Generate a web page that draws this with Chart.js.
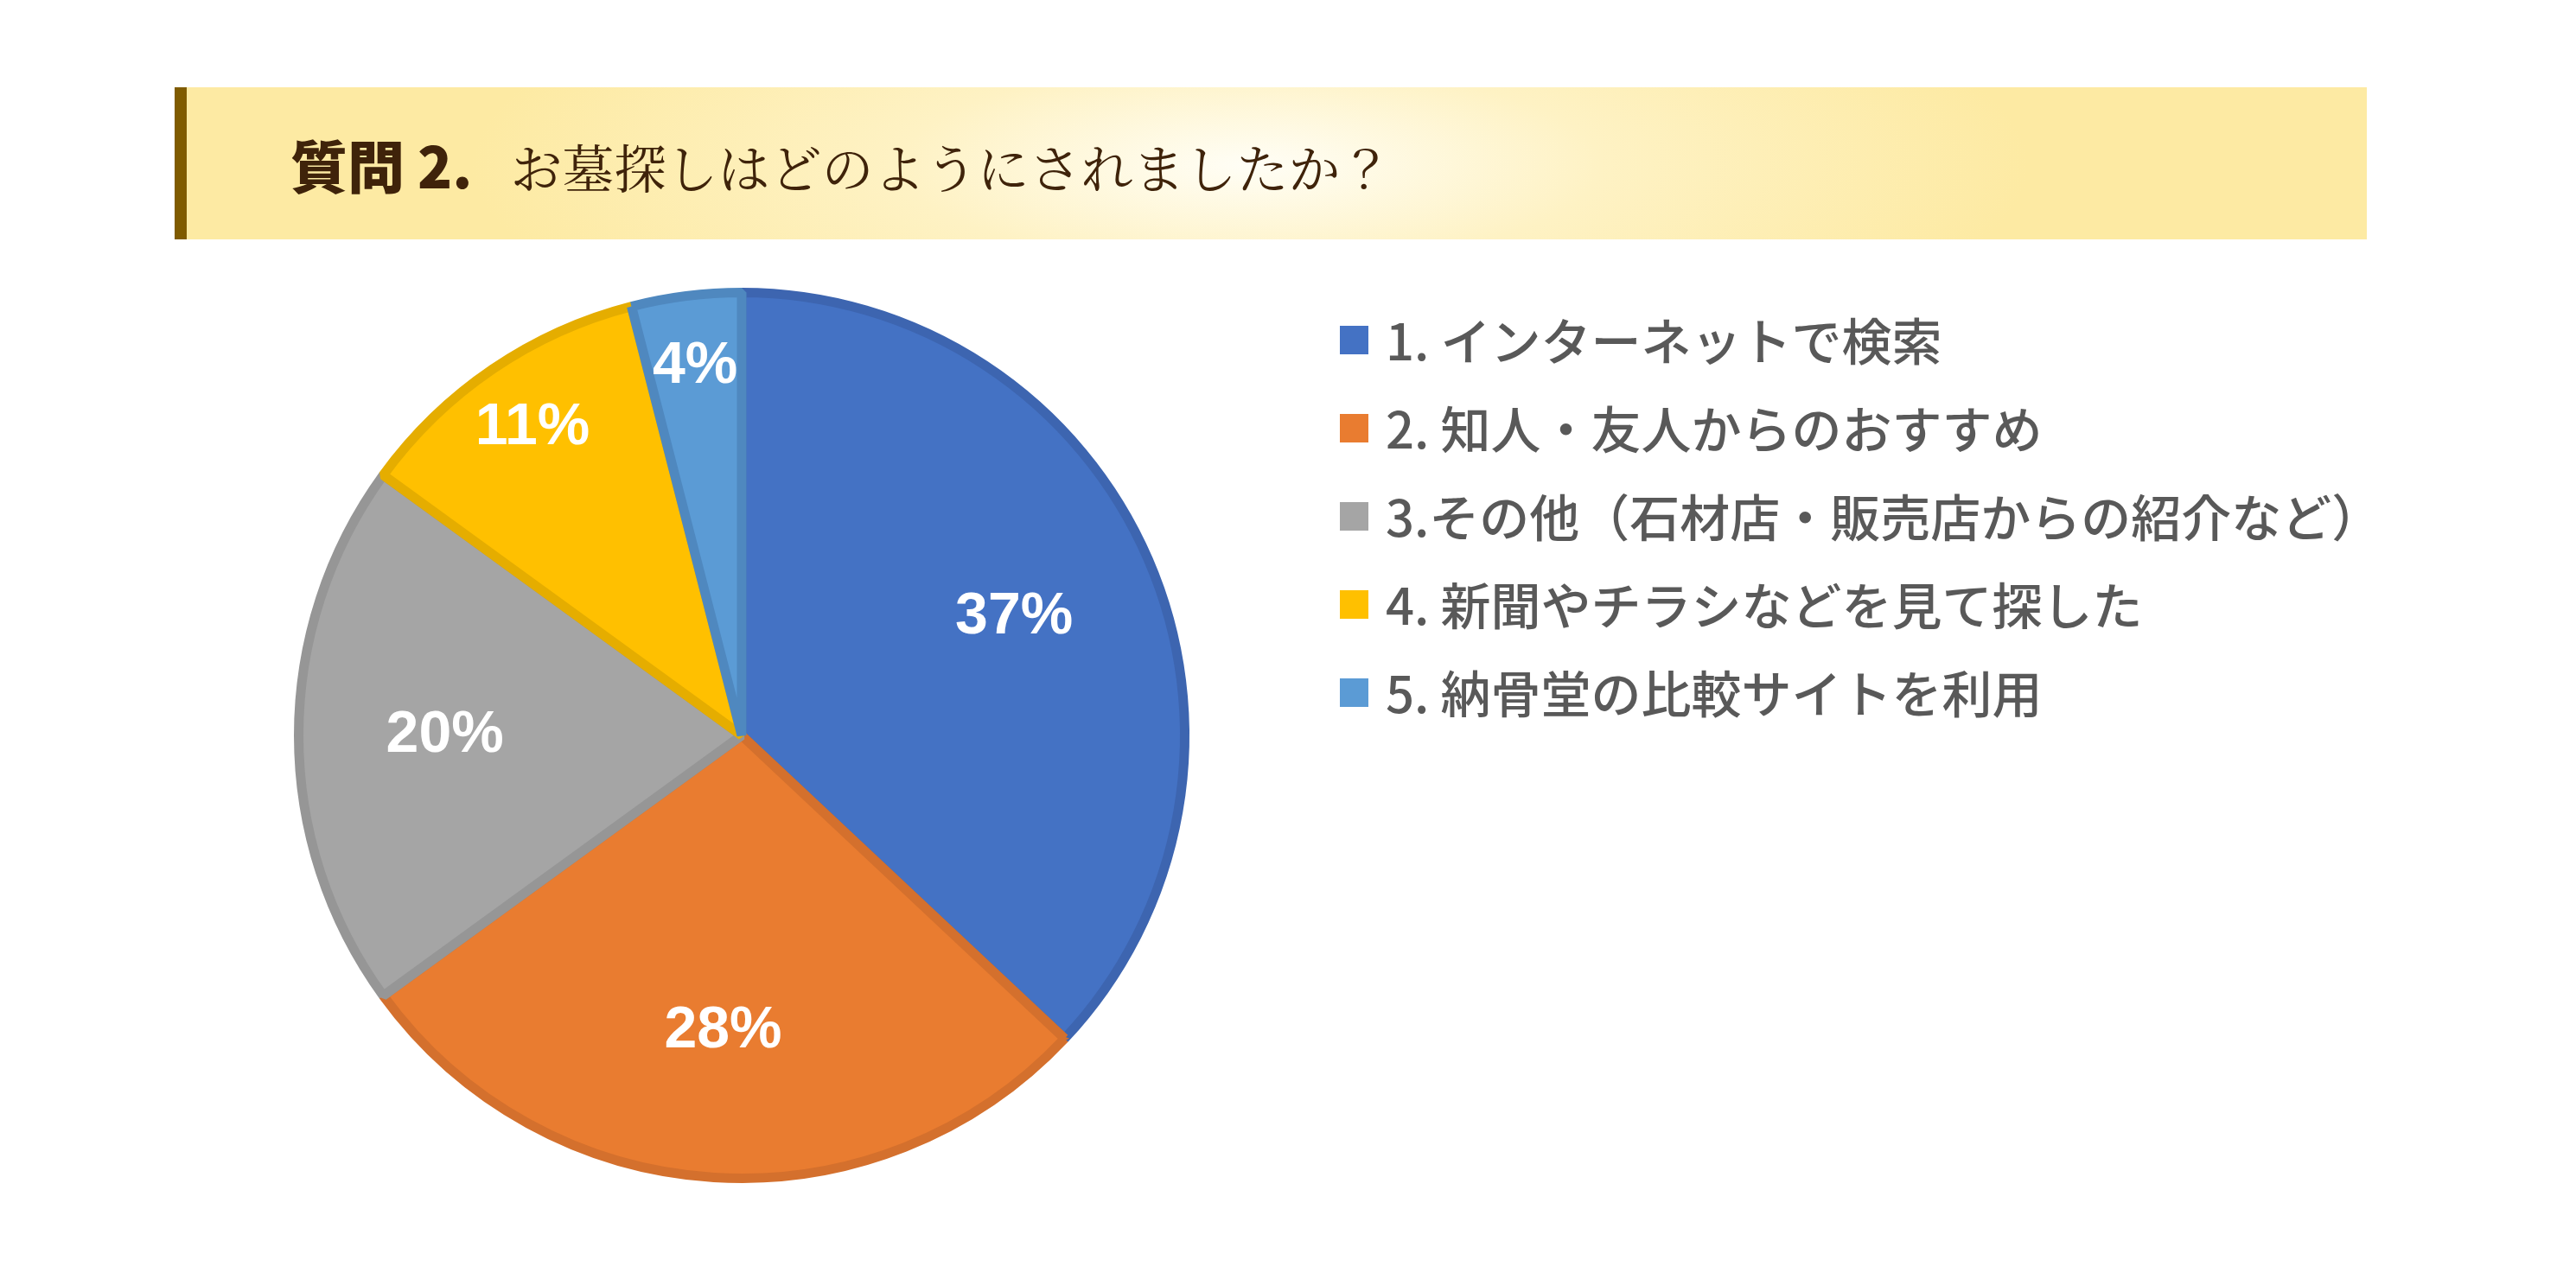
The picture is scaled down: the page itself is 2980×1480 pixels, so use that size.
<!DOCTYPE html>
<html><head><meta charset="utf-8">
<script src="https://cdn.jsdelivr.net/npm/chart.js@4"></script>
<style>
html,body{margin:0;padding:0;background:#fff;width:2980px;height:1480px;overflow:hidden}
#banner{position:absolute;left:202px;top:101px;width:2536px;height:176px;
background:radial-gradient(ellipse 900px 260px at 1230px 90px,#fffef6 0%,#fef2c4 45%,#fdeaa3 100%);
border-left:14px solid #7f5b00;box-sizing:border-box}
#title{position:absolute;left:120px;top:0;height:176px;line-height:176px;color:#3f230a;white-space:nowrap;font-family:"Noto Serif CJK JP","Noto Sans CJK JP",serif}
#title b{font-family:"Noto Sans CJK JP";font-weight:900;font-size:66px;margin-right:44px}
#title span{font-size:60px}
#wrap{position:absolute;left:0;top:0;width:2980px;height:1480px}
</style></head><body>
<div id="banner"><div id="title"><b>質問 2.</b><span>お墓探しはどのようにされましたか？</span></div></div>
<div id="wrap"><canvas id="c" width="2980" height="1480"></canvas></div>
<script>
const categories=["1. インターネットで検索","2. 知人・友人からのおすすめ","3.その他（石材店・販売店からの紹介など）","4. 新聞やチラシなどを見て探した","5. 納骨堂の比較サイトを利用"];
const values=[37,28,20,11,4];
const fillColors=["#4472C4","#E97C30","#A5A5A5","#FFC000","#5B9BD5"];
const borderColors=["#3D65B0","#D4702D","#969696","#E5AD00","#4F88BF"];

const labelPlugin={id:'lbl',afterDatasetsDraw(chart){
  const ctx=chart.ctx;const meta=chart.getDatasetMeta(0);
  ctx.save();ctx.fillStyle='#fff';ctx.font='900 68px "Liberation Sans",Arial,sans-serif';
  ctx.textAlign='center';ctx.textBaseline='middle';
  meta.data.forEach((a,i)=>{
    const mid=(a.startAngle+a.endAngle)/2;const f=values[i]<15?0.84:0.67;
    const r=a.outerRadius*f;
    ctx.fillText(values[i]+'%',a.x+Math.cos(mid)*r,a.y+Math.sin(mid)*r);
  });
  ctx.textAlign='left';ctx.font='500 58px "Noto Sans CJK JP",sans-serif';
  categories.forEach((t,i)=>{
    const y=393+i*102;
    ctx.fillStyle=fillColors[i];ctx.fillRect(1550,y-16,33,33);
    ctx.fillStyle='#595959';ctx.fillText(t,1603,y+2);
  });
  ctx.restore();
}};
new Chart(document.getElementById('c'),{
  type:'pie',
  data:{labels:categories,datasets:[{data:values,backgroundColor:fillColors,borderColor:borderColors,borderWidth:11}]},
  options:{responsive:false,animation:false,devicePixelRatio:1,
    layout:{padding:{left:340,top:333,bottom:111,right:1604}},
    plugins:{legend:{display:false},tooltip:{enabled:false}}},
  plugins:[labelPlugin]
});
</script>
</body></html>
